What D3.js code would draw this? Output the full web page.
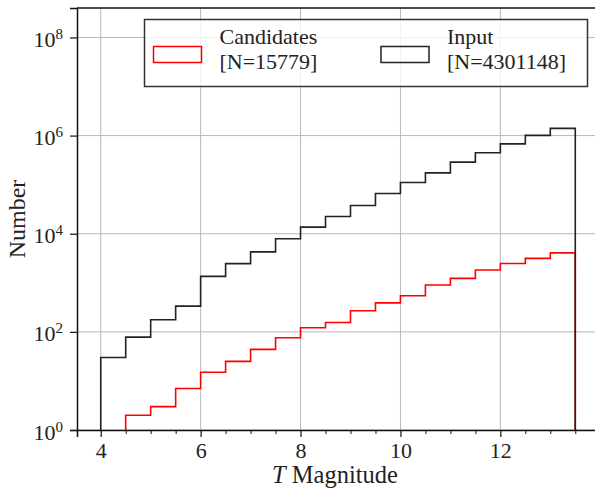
<!DOCTYPE html>
<html>
<head>
<meta charset="utf-8">
<script src="https://cdn.jsdelivr.net/npm/d3@7"></script>
<style>
  body { margin: 0; background: #fff; }
  svg { display: block; font-family: "Liberation Serif", "DejaVu Serif", serif; }
</style>
</head>
<body>
<div id="chart"></div>
<script>
const width = 595;
const height = 491;

// bin edges (T magnitude)
const binEdges = [4, 4.5, 5, 5.5, 6, 6.5, 7, 7.5, 8, 8.5, 9, 9.5, 10, 10.5, 11, 11.5, 12, 12.5, 13, 13.5];
// counts per bin
const inputCounts = [30, 78, 176, 335, 1350, 2460, 4270, 7900, 13600, 22500, 37700, 66000,
  111000, 174000, 288000, 446000, 678000, 1010000, 1400000];
const candidateCounts = [0, 2, 3, 7, 15, 25, 44, 76, 121, 155, 270, 390,
  544, 900, 1230, 1820, 2480, 3150, 4080];

const xMajor = [4, 6, 8, 10, 12];
const xMinor = [4.5, 5, 5.5, 6.5, 7, 7.5, 8.5, 9, 9.5, 10.5, 11, 11.5, 12.5, 13, 13.5];
const yMajor = [1, 1e2, 1e4, 1e6, 1e8];
const yExp = ["0", "2", "4", "6", "8"];

const series = [
  {name: "Candidates", n: "[N=15779]", counts: candidateCounts, color: "#ff0000"},
  {name: "Input", n: "[N=4301148]", counts: inputCounts, color: "#222222"}
];

const margin = {left: 77, top: 8, right: -4, bottom: 61};
const plotW = width - margin.left - margin.right;
const plotH = height - margin.top - margin.bottom;

const x = d3.scaleLinear().domain([3.525, 13.975]).range([0, plotW]);
const y = d3.scaleLog().domain([1, Math.pow(10, 8.6)]).range([plotH, 0]);

const svg = d3.select("#chart").append("svg")
  .attr("width", width)
  .attr("height", height);

const g = svg.append("g").attr("transform", `translate(${margin.left},${margin.top})`);

g.append("clipPath").attr("id", "clip")
  .append("rect").attr("width", plotW).attr("height", plotH);

// grid
const grid = g.append("g").attr("stroke", "#b8b8b8").attr("stroke-width", 1);
grid.selectAll(".gx").data(xMajor).join("line")
  .attr("x1", d => x(d)).attr("x2", d => x(d))
  .attr("y1", 0).attr("y2", plotH);
grid.selectAll(".gy").data(yMajor).join("line")
  .attr("x1", 0).attr("x2", plotW)
  .attr("y1", d => y(d)).attr("y2", d => y(d));

// step histograms
function stepPoints(counts) {
  const pts = [];
  let first = counts.findIndex(c => c > 0);
  pts.push([binEdges[first], 1]);
  for (let i = first; i < counts.length; i++) {
    pts.push([binEdges[i], counts[i]]);
    pts.push([binEdges[i + 1], counts[i]]);
  }
  pts.push([binEdges[binEdges.length - 1], 1]);
  return pts;
}

const line = d3.line().x(d => x(d[0])).y(d => y(d[1]));

g.append("g").attr("clip-path", "url(#clip)")
  .selectAll("path")
  .data(series)
  .join("path")
  .attr("d", d => line(stepPoints(d.counts)))
  .attr("fill", "none")
  .attr("stroke", d => d.color)
  .attr("stroke-width", 1.6);

// axes
const xAxis = g.append("g")
  .attr("transform", `translate(0,${plotH})`)
  .call(d3.axisBottom(x).tickValues(xMajor).tickSize(7).tickPadding(5).tickFormat(d3.format("d")));
g.append("g")
  .attr("transform", `translate(0,${plotH})`)
  .call(d3.axisBottom(x).tickValues(xMinor).tickSize(4).tickFormat(""))
  .call(a => a.select(".domain").remove());

const yAxis = g.append("g")
  .call(d3.axisLeft(y).tickValues(yMajor).tickSize(7).tickPadding(4).tickFormat(""));

[xAxis, yAxis].forEach(a => {
  a.select(".domain").attr("stroke", "#111").attr("stroke-width", 1.5);
  a.selectAll(".tick line").attr("stroke", "#111").attr("stroke-width", 1.2);
});
g.selectAll(".tick line").attr("stroke", "#111");

xAxis.selectAll(".tick text")
  .attr("font-size", 22)
  .attr("font-family", "Liberation Serif")
  .attr("fill", "#222");

yAxis.selectAll(".tick").each(function(d, i) {
  const t = d3.select(this).append("text")
    .attr("x", -14)
    .attr("y", 9)
    .attr("text-anchor", "end")
    .attr("fill", "#222")
    .attr("font-family", "Liberation Serif");
  t.append("tspan").attr("font-size", 22).text("10");
  t.append("tspan").attr("font-size", 15).attr("dy", -8).text(yExp[i]);
});

// top spine
g.append("line")
  .attr("x1", 0).attr("x2", plotW)
  .attr("y1", 0).attr("y2", 0)
  .attr("stroke", "#111").attr("stroke-width", 1.5);

// axis labels
svg.append("text")
  .attr("transform", `translate(25,${margin.top + plotH / 2}) rotate(-90)`)
  .attr("text-anchor", "middle")
  .attr("font-size", 24)
  .attr("fill", "#222")
  .text("Number");

const xl = svg.append("text")
  .attr("x", margin.left + plotW / 2 - 3)
  .attr("y", 483)
  .attr("text-anchor", "middle")
  .attr("font-size", 24.5)
  .attr("fill", "#222");
xl.append("tspan").attr("font-style", "italic").text("T");
xl.append("tspan").text(" Magnitude");

// legend
const legend = svg.append("g");
legend.append("rect")
  .attr("x", 144.5).attr("y", 19.5)
  .attr("width", 443).attr("height", 67)
  .attr("fill", "#fff").attr("fill-opacity", 0.8)
  .attr("stroke", "#333").attr("stroke-width", 1.5);

const entryX = [153.5, 381];
const items = legend.selectAll(".item").data(series).join("g")
  .attr("transform", (d, i) => `translate(${entryX[i]},0)`);
items.append("rect")
  .attr("x", 0).attr("y", 46.5)
  .attr("width", 48).attr("height", 16)
  .attr("fill", "none")
  .attr("stroke", d => d.color)
  .attr("stroke-width", 1.5);
items.append("text")
  .attr("x", 66).attr("y", 44)
  .attr("font-size", 22).attr("textLength", null)
  .attr("fill", "#222")
  .text(d => d.name);
items.append("text")
  .attr("x", 66).attr("y", 68.5)
  .attr("font-size", 22)
  .attr("fill", "#222")
  .text(d => d.n);
</script>
</body>
</html>
